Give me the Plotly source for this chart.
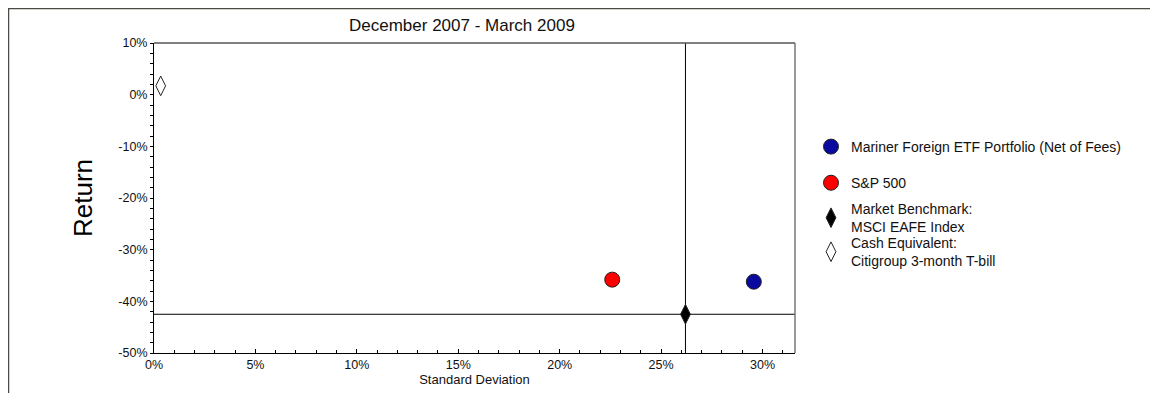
import plotly.graph_objects as go

# ---- data ----
series_names = [
    "Mariner Foreign ETF Portfolio (Net of Fees)",
    "S&P 500",
    "Market Benchmark:<br>MSCI EAFE Index",
    "Cash Equivalent:<br>Citigroup 3-month T-bill",
]
std_dev = [29.57, 22.59, 26.2, 0.33]      # % standard deviation
returns = [-36.2, -35.8, -42.5, 1.7]      # % return
x_ticks = [0, 5, 10, 15, 20, 25, 30]
y_ticks = [10, 0, -10, -20, -30, -40, -50]
title_text = "December 2007 - March 2009"

# ---- styles ----
symbols = ["circle", "circle", "diamond-tall", "diamond-tall"]
fills = ["#0A0AA0", "#FF0000", "#000000", "#FFFFFF"]
sizes = [15, 15, 14, 14]
legend_ids = ["legend", "legend2", "legend3", "legend4"]
legend_y = [0.6645, 0.548, 0.4355, 0.3258]

# plot area geometry (figure pixels)
L, T, R, B = 146, 35, 787, 345
W, H = R - L, B - T

fig = go.Figure()

bench_x, bench_y = std_dev[2], returns[2]
fig.add_shape(type="line", xref="x", yref="paper", x0=bench_x, x1=bench_x, y0=0, y1=1,
              line=dict(color="black", width=1), layer="below")
fig.add_shape(type="line", xref="paper", yref="y", x0=0, x1=1, y0=bench_y, y1=bench_y,
              line=dict(color="black", width=1), layer="below")

for i, name in enumerate(series_names):
    fig.add_trace(go.Scatter(
        x=[std_dev[i]], y=[returns[i]], mode="markers", name=name,
        legend=legend_ids[i],
        marker=dict(symbol=symbols[i], size=sizes[i], color=fills[i],
                    line=dict(color="#222222", width=1)),
        cliponaxis=False,
    ))

font = "Liberation Sans, Arial, sans-serif"

legend_common = dict(x=1 + 16 / W, xanchor="left", yanchor="middle",
                     font=dict(size=14, color="#111111"), itemwidth=30,
                     bgcolor="rgba(0,0,0,0)")
layout_legends = {}
for lid, ly in zip(legend_ids, legend_y):
    layout_legends[lid] = dict(legend_common, y=ly)

fig.update_layout(
    width=1158, height=393,
    margin=dict(l=L, r=1158 - R, t=T, b=393 - B),
    paper_bgcolor="white", plot_bgcolor="white",
    font=dict(family=font, size=12, color="#111111"),
    showlegend=True,
    annotations=[dict(text=title_text, xref="paper", yref="paper",
                      x=(454 - L) / W, y=(B - 18) / H,
                      xanchor="center", yanchor="middle", showarrow=False,
                      font=dict(size=17, color="#111111"))],
    **layout_legends,
)

# outer frame
fig.add_shape(type="rect", xref="paper", yref="paper",
              x0=(0.5 - L) / W, x1=(1145 - L) / W,
              y0=-0.3, y1=(B - 0.5) / H,
              line=dict(color="#4a4a44", width=1.5), fillcolor="rgba(0,0,0,0)")

fig.update_xaxes(
    range=[0, 31.6], tickvals=x_ticks, ticktext=[f"{v}%" for v in x_ticks],
    ticks="inside", ticklen=4, tickcolor="black",
    minor=dict(dtick=1, ticks="inside", ticklen=3, tickcolor="black"),
    showgrid=False, zeroline=False,
    showline=True, linecolor="black", linewidth=1,
    title=dict(text="Standard Deviation", font=dict(size=13), standoff=3),
    tickfont=dict(size=12.5),
)
fig.update_yaxes(
    range=[-50, 10], tickvals=y_ticks, ticktext=[f"{v}%" for v in y_ticks],
    ticks="outside", ticklen=3, tickcolor="black",
    minor=dict(dtick=2, ticks="outside", ticklen=3, tickcolor="black"),
    showgrid=False, zeroline=False,
    showline=True, linecolor="black", linewidth=1,
    title=dict(text="Return", font=dict(size=26, color="#000000"), standoff=18),
    tickfont=dict(size=12.5),
)
fig.add_shape(type="line", xref="paper", yref="paper", x0=0, x1=1, y0=1, y1=1,
              line=dict(color="#555555", width=1.5))
fig.add_shape(type="line", xref="paper", yref="paper", x0=1, x1=1, y0=0, y1=1,
              line=dict(color="#777777", width=1.5))

fig.write_html("out.html")
